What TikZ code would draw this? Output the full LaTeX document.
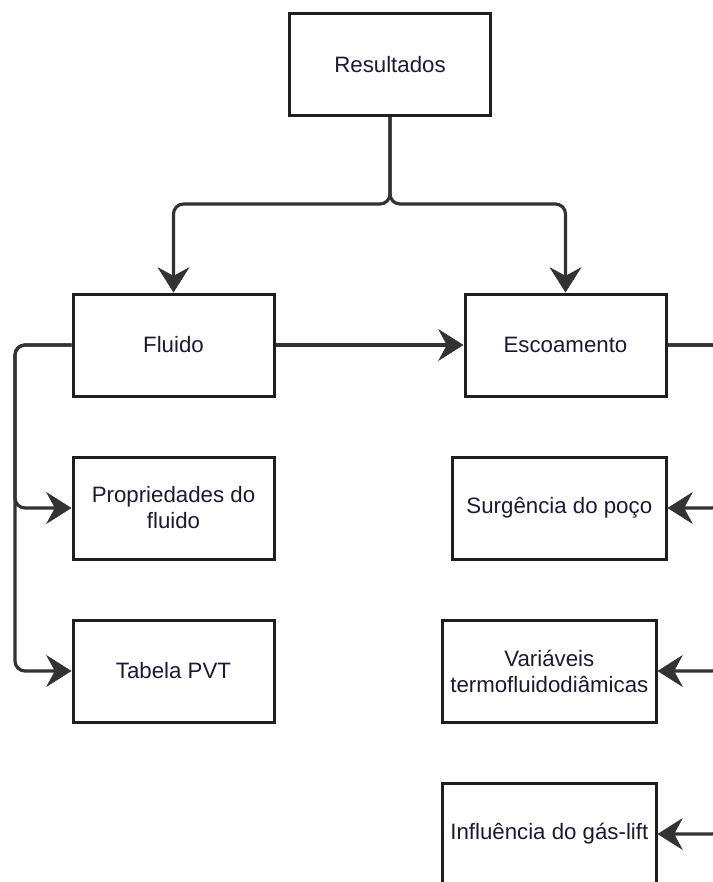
\documentclass[tikz,border=0pt]{standalone}
\usepackage{fontspec}
\setmainfont{Liberation Sans}
\usetikzlibrary{positioning,arrows.meta}
\definecolor{boxline}{HTML}{1E1E1E}
\definecolor{linkline}{HTML}{333333}
\definecolor{boxtext}{HTML}{1A1A33}
\begin{document}
\begin{tikzpicture}[x=0.75pt, y=-0.75pt,
    box/.style = {draw=boxline, line width=2.25pt, fill=white, text=boxtext, align=center,
                  minimum width=150.75pt, minimum height=76.5pt, inner sep=2pt,
                  font=\fontsize{16.7}{19.5}\selectfont},
    wide/.style = {minimum width=160pt},
    link/.style = {draw=linkline, line width=2.4pt,
                   -{Stealth[length=19pt, width=24pt, inset=6.5pt, line width=0.5pt, fill=linkline]}},
    bent/.style = {link, rounded corners=7.5pt},
    node distance=43.5pt]
                \clip (0,0) rectangle (713,882);
                \node[box] (resultados) at (390,64.5) {Resultados};
                \node[box] (fluido) at (173.5,345) {Fluido};
                \node[box] (escoamento) [right=141pt of fluido] {Escoamento};
                \node[box] (propriedades) [below=of fluido] {Propriedades do\\fluido};
                \node[box] (tabela) [below=of propriedades] {Tabela PVT};
                \node[box, wide] (surgencia) [below=of escoamento.south east, anchor=north east] {Surgência do poço};
                \node[box, wide] (variaveis) [below=of surgencia.south east, anchor=north east, xshift=-7.5pt] {Variáveis\\termofluidodiâmicas};
                \node[box, wide] (influencia) [below=of variaveis] {Influência do gás-lift};
                % side rails, the right one lies past the page edge
                \coordinate (lbus) at (15,0);
                \coordinate (rbus) at (722,0);
                \draw[bent] (resultados.south) -- ++(0,87) -| (fluido.north);
                \draw[bent] (resultados.south) -- ++(0,87) -| (escoamento.north);
                \draw[link] (fluido.east) -- (escoamento.west);
                \draw[bent] (fluido.west) -- (fluido.west -| lbus) |- (propriedades.west);
                \draw[bent] (fluido.west) -- (fluido.west -| lbus) |- (tabela.west);
                \draw[bent] (escoamento.east) -- (escoamento.east -| rbus) |- (surgencia.east);
                \draw[bent] (escoamento.east) -- (escoamento.east -| rbus) |- (variaveis.east);
                \draw[bent] (escoamento.east) -- (escoamento.east -| rbus) |- (influencia.east);
            \end{tikzpicture}
\end{document}
